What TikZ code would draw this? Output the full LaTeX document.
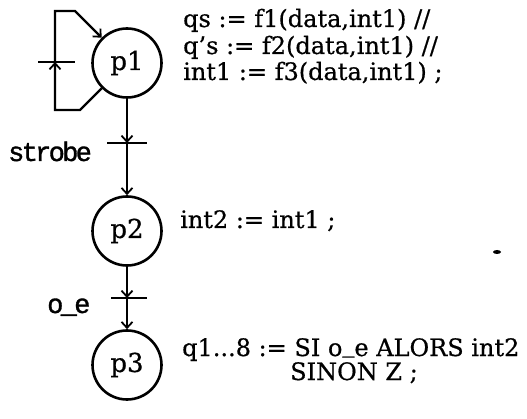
\documentclass[tikz,border=0pt]{standalone}
\usepackage{fontspec}
\setmainfont{DejaVu Serif}[FakeBold=0.6]
\newfontfamily\monofnt[LetterSpace=-10,FakeBold=1.2]{Liberation Mono}
\usetikzlibrary{arrows.meta}
\newcommand{\lowbar}{\raisebox{4pt}{\_}}
\begin{document}
\begin{tikzpicture}[x=1pt,y=-1pt,
  place/.style={circle,draw,line width=2.6pt,minimum size=69pt,inner sep=0pt,font=\fontsize{26}{28}\selectfont},
  arc/.style={line width=2.2pt,-{Straight Barb[length=6pt,width=11pt,line width=1.8pt]}},
  tickline/.style={line width=1.8pt},
  eq/.style={anchor=base west,inner sep=0pt,font=\fontsize{24}{26}\selectfont},
  lbl/.style={anchor=base west,inner sep=0pt,font=\monofnt\fontsize{27}{29}\selectfont}]
\useasboundingbox (0,0) rectangle (527,419);
% places
\node[place] (p1) at (127,63) {p1};
\node[place] (p2) at (127,231) {p2};
\node[place] (p3) at (127,365) {p3};
% transitions
\coordinate (t0) at (55,62);
\coordinate (t1) at (127,143);
\coordinate (t2) at (127,298);
\coordinate (c1) at (80,110);
\coordinate (c2) at (55,110);
\coordinate (c3) at (55,11);
\coordinate (c4) at (75,11);
% loop on p1
\draw[arc] (p1.-135) -- (c1) -- (c2) -- (t0);
\draw[arc] (t0) -- (c3) -- (c4) -- (p1.135);
\draw[tickline] ([xshift=-17pt]t0) -- ([xshift=20pt]t0);
% p1 -> p2
\draw[arc] (p1) -- (t1);
\draw[arc] (t1) -- (p2);
\draw[tickline] ([xshift=-20pt]t1) -- ([xshift=20pt]t1);
% p2 -> p3
\draw[arc] (p2) -- (t2);
\draw[arc] (t2) -- (p3);
\draw[tickline] ([xshift=-16pt]t2) -- ([xshift=20pt]t2);
% labels
\node[lbl] (lstrobe) at (8,161) {strobe};
\node[lbl] (loe) at (47,313) {o\_e};
% actions
\node[eq] (a1) at (183,27) {qs := f1(data,int1) //};
\node[eq] (a2) at (183,54) {q's := f2(data,int1) //};
\node[eq] (a3) at (183,80) {int1 := f3(data,int1) ;};
\node[eq] (a4) at (180,228) {int2 := int1 ;};
\node[eq] (a5) at (182,356) {q1...8 := SI o\lowbar e ALORS int2};
\node[eq] (a6) at (290,380) {SINON Z ;};
% scan speck
\fill (497,252) ellipse (4pt and 2pt);
\end{tikzpicture}
\end{document}
